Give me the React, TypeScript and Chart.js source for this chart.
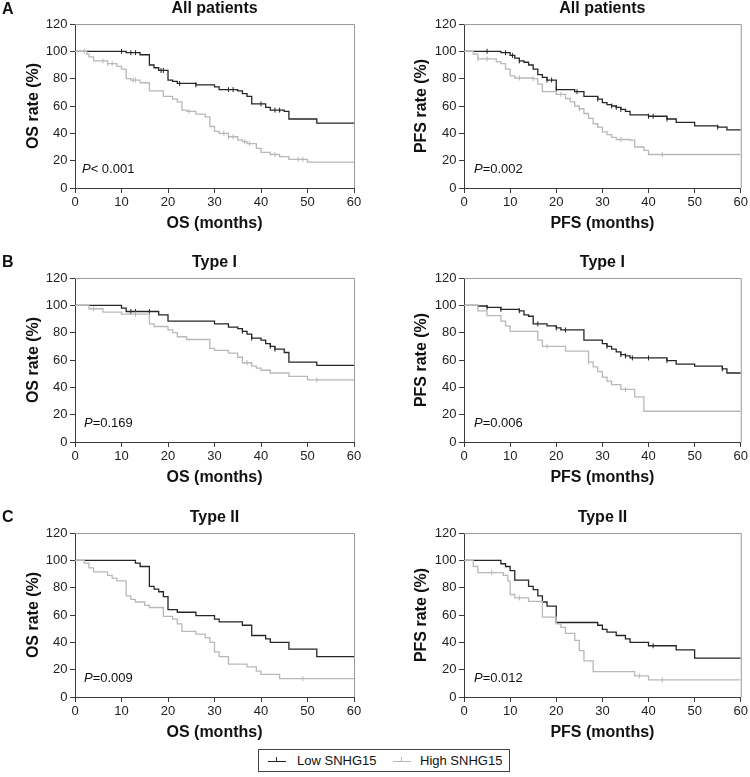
import React, { useEffect, useRef } from "react";
import { Chart, registerables } from "chart.js";

Chart.register(...registerables);

const FONT = "'Liberation Sans', Arial, Helvetica, sans-serif";
const DARK = "#262626";
const GRAY = "#b8b8b8";
const AXIS = "#3a3a3a";

// Axis ticks
const xTicks = [0, 10, 20, 30, 40, 50, 60];
const yTicks = [0, 20, 40, 60, 80, 100, 120];
const legendLabels = ["Low SNHG15", "High SNHG15"];

// A: OS, all patients
const osAllLowT = [0, 11, 14, 16, 17, 18, 20, 21, 22, 26, 30, 31, 35, 36, 37, 38, 41, 42, 45, 46, 52];
const osAllLowS = [100, 99, 97.5, 90, 88, 86, 79, 78, 76.5, 75.5, 74, 72, 71, 69, 67, 61.5, 59, 57, 56, 50.5, 47.5];
const osAllLowC = [10, 12, 13, 18.5, 19, 22.5, 26, 33, 34, 40, 43, 44];
const osAllHighT = [0, 2.5, 3, 4, 7, 9, 10, 11, 12, 14, 16, 19, 21, 22, 23, 24, 26, 28, 29, 30, 31, 33, 35, 36, 37, 39, 40, 42, 44, 46, 50];
const osAllHighS = [100, 98, 96, 93, 91, 89, 87, 80, 79, 77, 71, 67, 65, 63, 57, 56, 54, 52, 45, 41.5, 40, 37.5, 35, 34, 32.5, 29, 26, 24.5, 23, 21, 19];
const osAllHighC = [2, 6, 7, 8, 12.5, 13, 24.5, 32, 33, 34, 36.5, 37.5, 43, 48, 49];

// A: PFS, all patients
const pfsAllLowT = [0, 8, 10, 11, 12, 13, 14, 15, 16, 17, 18, 20, 24, 26, 29, 30, 31, 32, 33, 34, 35, 36, 40, 44, 46, 50, 55, 57];
const pfsAllLowS = [100, 99, 97, 95, 93, 92, 90, 87, 83, 81, 79, 72, 70.5, 67, 65, 62.5, 61, 60, 59, 57.5, 56, 53.5, 52.5, 50.5, 48, 45.5, 44.5, 42.5];
const pfsAllLowC = [5, 9, 10.5, 12, 18, 19, 20, 24.5, 29, 32, 33, 34, 40, 41, 44, 55];
const pfsAllHighT = [0, 2, 3, 7, 8, 9, 10, 11, 15, 16, 17, 20, 22, 23, 24, 25, 26, 27, 28, 29, 30, 31, 32, 33, 36, 37, 39, 40];
const pfsAllHighS = [100, 98, 94.5, 92.5, 91, 87, 82, 80.5, 80, 76, 70.5, 68.5, 65.5, 63, 60, 58, 54.5, 51, 47, 44.5, 41, 39, 37, 35.5, 35, 30, 27.5, 24.5];
const pfsAllHighC = [3, 5, 12, 15, 21, 25, 34, 43];

// B: OS, type I
const osT1LowT = [0, 10, 11, 18, 20, 30, 33, 35, 36, 37, 38, 40, 41, 42, 43, 45, 46, 52];
const osT1LowS = [100, 98, 95.5, 93, 88.5, 86.5, 84, 83, 81, 79, 76, 74.5, 72, 70, 68, 65.5, 58.5, 56];
const osT1LowC = [12, 13, 16, 36, 38, 42, 43];
const osT1HighT = [0, 3, 6, 10, 16, 17, 20, 21, 22, 24, 29, 30, 33, 35, 36, 38, 39, 40, 42, 46, 50];
const osT1HighS = [100, 97.5, 95, 93.5, 86.5, 84.5, 82, 80, 77, 75, 68.5, 67, 65, 62, 58, 55.5, 54, 52.5, 50.5, 48, 45.5];
const osT1HighC = [4, 13, 37, 52];

// B: PFS, type I
const pfsT1LowT = [0, 3, 5, 8, 12, 13, 14, 15, 18, 20, 21, 26, 30, 31, 32, 33, 34, 35, 36, 44, 46, 50, 56, 57];
const pfsT1LowS = [100, 99.5, 98.5, 97, 96, 93, 92, 86.5, 85, 83.5, 82, 74.5, 72, 70, 68, 66, 64, 63, 61.5, 59.5, 57, 55.5, 53.5, 50.5];
const pfsT1LowC = [5, 8, 12, 16, 20, 22, 31, 34, 35, 36.5, 40, 44, 56];
const pfsT1HighT = [0, 3, 5, 8, 9, 10, 16, 17, 22, 27, 28, 29, 30, 31, 32, 34, 37, 39];
const pfsT1HighS = [100, 96, 92.5, 88.5, 85, 81, 74.5, 70, 66.5, 58.5, 55, 51.5, 47.5, 44.5, 42, 38.5, 33, 22.5];
const pfsT1HighC = [18, 27, 35];

// C: OS, type II
const osT2LowT = [0, 13, 14, 16, 17, 18, 19, 20, 22, 26, 30, 31, 36, 38, 41, 42, 46, 52];
const osT2LowS = [100, 98, 95.5, 81, 79, 77, 73.5, 64, 62, 59.5, 57, 55, 52.5, 45, 42.5, 40, 35, 29.5];
const osT2LowC: number[] = [];
const osT2HighT = [0, 2, 3, 4, 7, 8, 9, 11, 12, 13, 15, 16, 19, 21, 22, 23, 26, 28, 29, 30, 31, 33, 37, 39, 40, 44];
const osT2HighS = [100, 98, 94.5, 91.5, 89, 87, 85, 74, 71.5, 69.5, 67, 65.5, 59, 57, 53.5, 48, 46, 43.5, 40, 33, 29.5, 24, 22, 19, 16.5, 13.5];
const osT2HighC = [49];

// C: PFS, type II
const pfsT2LowT = [0, 8, 9, 10, 11, 14, 15, 16, 17, 18, 20, 29, 30, 31, 33, 35, 36, 40, 46, 50];
const pfsT2LowS = [100, 97.5, 95.5, 92.5, 85.5, 81, 78.5, 74, 69.5, 66.5, 54.5, 52.5, 49.5, 47.5, 45, 42.5, 40, 37.5, 34.5, 28.5];
const pfsT2LowC = [41];
const pfsT2HighT = [0, 2, 3, 8.5, 9.5, 10, 11, 14, 17, 20, 21, 22, 24, 25, 26, 28, 37, 40];
const pfsT2HighS = [100, 95.5, 91, 89, 85, 75, 72.5, 70, 58.5, 53.5, 51, 46.5, 41.5, 34, 26.5, 18.5, 15.5, 12.5];
const pfsT2HighC = [6, 12, 38, 43];

type Curve = { t: number[]; s: number[]; c: number[] };
type PanelCfg = {
  col: number;
  row: number;
  title: string;
  xTitle: string;
  yTitle: string;
  p: string;
  pdx: number;
  low: Curve;
  high: Curve;
};

const panels: PanelCfg[] = [
  { col: 0, row: 0, title: "All patients", xTitle: "OS (months)", yTitle: "OS rate (%)", p: "< 0.001", pdx: 7,
    low: { t: osAllLowT, s: osAllLowS, c: osAllLowC }, high: { t: osAllHighT, s: osAllHighS, c: osAllHighC } },
  { col: 1, row: 0, title: "All patients", xTitle: "PFS (months)", yTitle: "PFS rate (%)", p: "=0.002", pdx: 10,
    low: { t: pfsAllLowT, s: pfsAllLowS, c: pfsAllLowC }, high: { t: pfsAllHighT, s: pfsAllHighS, c: pfsAllHighC } },
  { col: 0, row: 1, title: "Type I", xTitle: "OS (months)", yTitle: "OS rate (%)", p: "=0.169", pdx: 9,
    low: { t: osT1LowT, s: osT1LowS, c: osT1LowC }, high: { t: osT1HighT, s: osT1HighS, c: osT1HighC } },
  { col: 1, row: 1, title: "Type I", xTitle: "PFS (months)", yTitle: "PFS rate (%)", p: "=0.006", pdx: 10,
    low: { t: pfsT1LowT, s: pfsT1LowS, c: pfsT1LowC }, high: { t: pfsT1HighT, s: pfsT1HighS, c: pfsT1HighC } },
  { col: 0, row: 2, title: "Type II", xTitle: "OS (months)", yTitle: "OS rate (%)", p: "=0.009", pdx: 9,
    low: { t: osT2LowT, s: osT2LowS, c: osT2LowC }, high: { t: osT2HighT, s: osT2HighS, c: osT2HighC } },
  { col: 1, row: 2, title: "Type II", xTitle: "PFS (months)", yTitle: "PFS rate (%)", p: "=0.012", pdx: 10,
    low: { t: pfsT2LowT, s: pfsT2LowS, c: pfsT2LowC }, high: { t: pfsT2HighT, s: pfsT2HighS, c: pfsT2HighC } },
];

const COL_X = [0, 375];
const AREA_LEFT = [75, 464];
const AREA_RIGHT = [354, 743];
const AREA_TOP = [24, 278, 533];
const AREA_H = 164;
const Y_TITLE_PAD = [24.4, 37.1];
const TOP_PAD = 26;
const X_H = 45;
const W = 375;
const H = TOP_PAD + AREA_H + X_H + 2;

function stepValue(t: number[], s: number[], x: number) {
  let v = s[0];
  for (let i = 0; i < t.length; i++) if (t[i] <= x) v = s[i];
  return v;
}

function curvePoints(t: number[], s: number[]) {
  const pts = t.map((x, i) => ({ x, y: s[i] }));
  pts.push({ x: 60, y: s[s.length - 1] });
  return pts;
}

function Panel({ cfg }: { cfg: PanelCfg }) {
  const ref = useRef<HTMLCanvasElement>(null);
  const colX = COL_X[cfg.col];
  const areaTop = AREA_TOP[cfg.row];
  const canvasTop = areaTop - TOP_PAD;

  useEffect(() => {
    if (!ref.current) return;
    const decor = {
      id: "decor",
      beforeDatasetsDraw(chart: any) {
        const { ctx, chartArea: a } = chart;
        ctx.save();
        ctx.strokeStyle = "#9a9a9a";
        ctx.lineWidth = 1;
        ctx.beginPath();
        ctx.moveTo(a.left, a.top + 0.5);
        ctx.lineTo(a.right + 0.5, a.top + 0.5);
        ctx.lineTo(a.right + 0.5, a.bottom);
        ctx.stroke();
        ctx.restore();
      },
      afterDraw(chart: any) {
        const { ctx, chartArea: a } = chart;
        ctx.save();
        ctx.fillStyle = "#111";
        ctx.font = `bold 16px ${FONT}`;
        ctx.textAlign = "center";
        ctx.textBaseline = "middle";
        ctx.fillText(cfg.title, (a.left + a.right) / 2, a.top - 15);
        ctx.textAlign = "left";
        ctx.font = `italic 13px ${FONT}`;
        const px = a.left + cfg.pdx;
        const py = a.bottom - 19;
        ctx.fillText("P", px, py);
        const w = ctx.measureText("P").width;
        ctx.font = `13px ${FONT}`;
        ctx.fillText(cfg.p, px + w, py);
        ctx.restore();
      },
    };

    const censor = (c: Curve) => c.c.map((x) => ({ x, y: stepValue(c.t, c.s, x) }));

    const chart = new Chart(ref.current, {
      type: "line",
      data: {
        datasets: [
          { label: legendLabels[1], data: curvePoints(cfg.high.t, cfg.high.s), borderColor: GRAY, borderWidth: 1.3, stepped: "before", pointRadius: 0, fill: false, order: 1 },
          { label: legendLabels[1] + " censored", data: censor(cfg.high), showLine: false, pointStyle: "line", rotation: 90, pointRadius: 2.5, borderColor: GRAY, borderWidth: 1, order: 1 },
          { label: legendLabels[0], data: curvePoints(cfg.low.t, cfg.low.s), borderColor: DARK, borderWidth: 1.3, stepped: "before", pointRadius: 0, fill: false, order: 2 },
          { label: legendLabels[0] + " censored", data: censor(cfg.low), showLine: false, pointStyle: "line", rotation: 90, pointRadius: 2.5, borderColor: DARK, borderWidth: 1, order: 2 },
        ] as any,
      },
      options: {
        animation: false,
        responsive: false,
        events: [],
        layout: { padding: { top: TOP_PAD, left: 0, right: W - (AREA_RIGHT[cfg.col] - colX), bottom: 2 } },
        plugins: { legend: { display: false }, tooltip: { enabled: false }, title: { display: false } },
        scales: {
          x: {
            type: "linear",
            min: 0,
            max: 60,
            afterBuildTicks: (s: any) => { s.ticks = xTicks.map((v) => ({ value: v })); },
            afterFit: (s: any) => { s.height = X_H; },
            grid: { drawOnChartArea: false, drawTicks: true, tickLength: 5, color: AXIS },
            border: { color: AXIS, width: 1 },
            ticks: { font: { family: FONT, size: 13 }, color: "#222", padding: 2, maxRotation: 0, autoSkip: false },
            title: { display: true, text: cfg.xTitle, font: { family: FONT, size: 16, weight: "bold" }, color: "#111", padding: { top: 0, bottom: 0 } },
          },
          y: {
            type: "linear",
            min: 0,
            max: 120,
            afterBuildTicks: (s: any) => { s.ticks = yTicks.map((v) => ({ value: v })); },
            afterFit: (s: any) => { s.width = AREA_LEFT[cfg.col] - colX; },
            grid: { drawOnChartArea: false, drawTicks: true, tickLength: 5, color: AXIS },
            border: { color: AXIS, width: 1 },
            ticks: { font: { family: FONT, size: 13 }, color: "#222", padding: 2.5, autoSkip: false },
            title: { display: true, text: cfg.yTitle, font: { family: FONT, size: 16, weight: "bold" }, color: "#111", padding: { top: Y_TITLE_PAD[cfg.col], bottom: 0 } },
          },
        },
      } as any,
      plugins: [decor],
    });
    return () => chart.destroy();
  }, [cfg]);

  return (
    <canvas
      ref={ref}
      width={W}
      height={H}
      style={{ position: "absolute", left: colX, top: canvasTop, width: W, height: H }}
    />
  );
}

const panelLetters = [
  { text: "A", y: 9 },
  { text: "B", y: 262 },
  { text: "C", y: 517 },
];

function LegendIcon({ color }: { color: string }) {
  return (
    <div style={{ position: "absolute", width: 18, height: 0, borderTop: `1.3px solid ${color}`, top: 11 }}>
      <div style={{ position: "absolute", left: 8, top: -5, width: 0, height: 5, borderLeft: `1px solid ${color}` }} />
    </div>
  );
}

export default function App() {
  return (
    <div style={{ position: "absolute", left: 0, top: 0, width: 750, height: 777, background: "#fff", overflow: "hidden" }}>
      {panels.map((p, i) => (
        <Panel key={i} cfg={p} />
      ))}
      {panelLetters.map((l) => (
        <div
          key={l.text}
          style={{ position: "absolute", left: 2, top: l.y - 9, lineHeight: "18px", fontFamily: FONT, fontWeight: "bold", fontSize: 16, color: "#111" }}
        >
          {l.text}
        </div>
      ))}
      <div
        style={{ position: "absolute", left: 258, top: 749, width: 252, height: 23, border: "1px solid #444", boxSizing: "border-box", fontFamily: FONT, fontSize: 13, color: "#111" }}
      >
        <div style={{ position: "absolute", left: 9, top: 0 }}>
          <LegendIcon color={DARK} />
        </div>
        <div style={{ position: "absolute", left: 38, top: 3, lineHeight: "15px" }}>{legendLabels[0]}</div>
        <div style={{ position: "absolute", left: 134, top: 0 }}>
          <LegendIcon color={GRAY} />
        </div>
        <div style={{ position: "absolute", left: 161, top: 3, lineHeight: "15px" }}>{legendLabels[1]}</div>
      </div>
    </div>
  );
}
